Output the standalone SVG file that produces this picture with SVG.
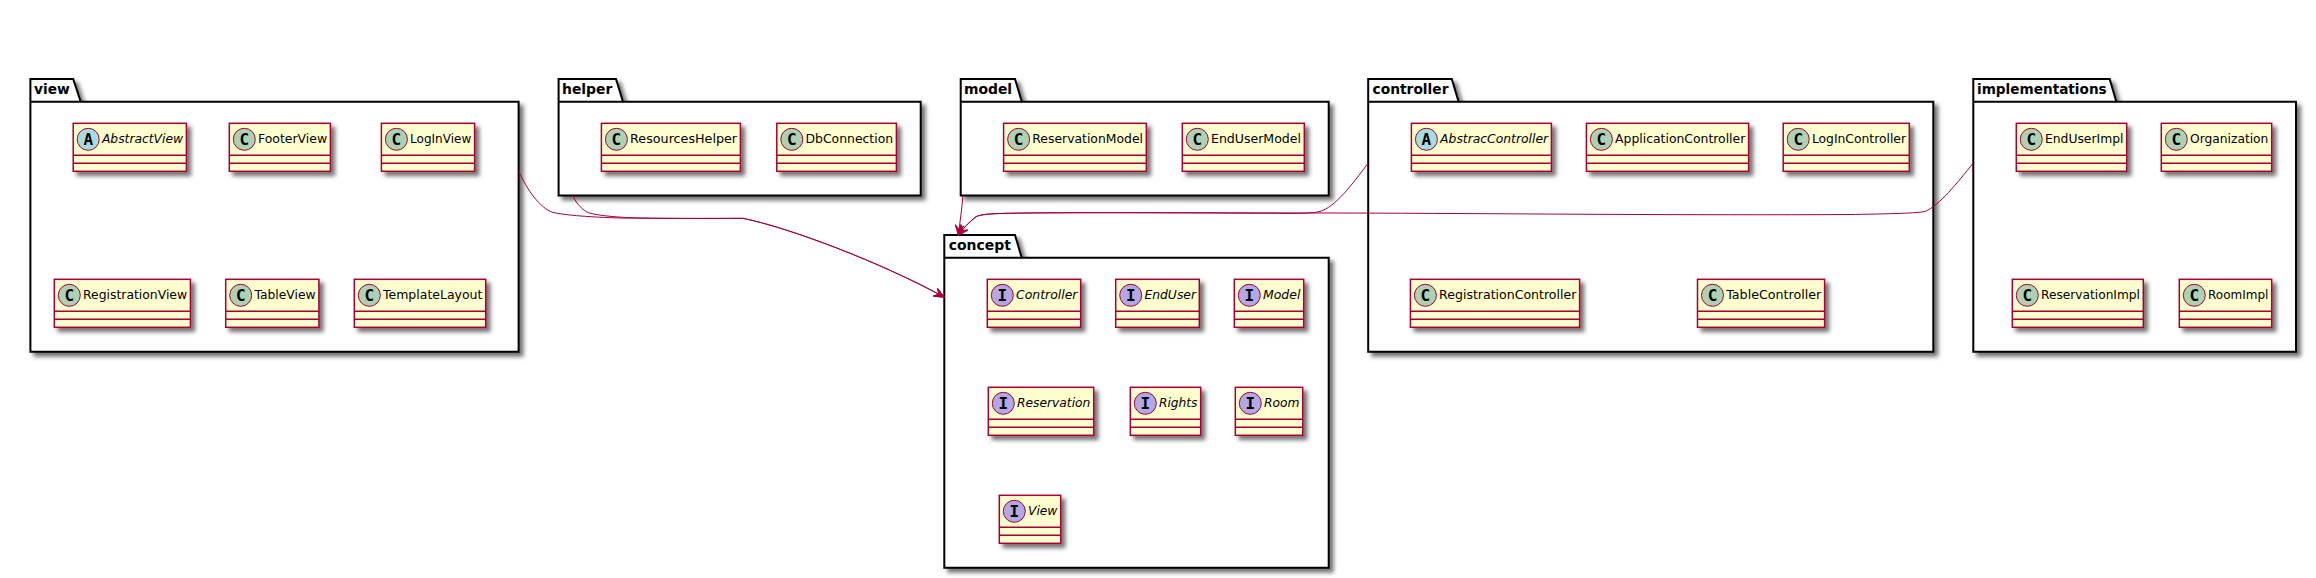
<svg xmlns="http://www.w3.org/2000/svg" width="2316" height="578" viewBox="0 0 2316 578">
<style>
text{font-family:"DejaVu Sans",sans-serif;fill:#000}
.pk{fill:#fff;stroke:#000;stroke-width:2;filter:url(#sh)}
.pl{fill:none;stroke:#000;stroke-width:2}
.pt{font-size:14px;font-weight:bold}
.b{fill:#FEFECE;stroke:#A80036;stroke-width:1.5;filter:url(#sh)}
.s{stroke:#A80036;stroke-width:1.5}
.c,.a,.i{stroke:#A80036;stroke-width:1}
.c{fill:#ADD1B2}.a{fill:#A9DCDF}.i{fill:#B4A7E5}
.g{font-family:"DejaVu Sans Mono",monospace;font-size:16px;font-weight:bold;text-anchor:middle}
.n{font-size:13px}
.it{font-style:italic}
.e{fill:none;stroke:#A80036;stroke-width:1;marker-end:url(#ah)}
</style>
<defs>
<filter id="sh" x="-10%" y="-10%" width="125%" height="130%"><feGaussianBlur in="SourceAlpha" stdDeviation="2"/><feColorMatrix values="0 0 0 0 0 0 0 0 0 0 0 0 0 0 0 0 0 0 .55 0"/><feOffset dx="4" dy="4" result="o"/><feBlend in="SourceGraphic" in2="o"/></filter>
<marker id="ah" markerUnits="userSpaceOnUse" markerWidth="12" markerHeight="12" viewBox="-10 -5 11 10" refX="0" refY="0" orient="auto"><path d="M0,0 L-9,-4 L-5,0 L-9,4 Z" fill="#A80036" stroke="#A80036"/></marker>
</defs>
<g id="pkg-view"><path class="pk" d="M30.4,79 H73.2 L80.7,101.7 H518.6 V351.7 H30.4 Z"/><path class="pl" d="M30.4,101.7 H80.7"/><text class="pt" x="34" y="94" textLength="35.7" lengthAdjust="spacingAndGlyphs">view</text>
<g id="AbstractView"><rect class="b" x="73.2" y="123.3" width="113.2" height="48"/><path class="s" d="M73.2,155.3H186.4M73.2,163.3H186.4"/><circle class="a" cx="88.2" cy="139.3" r="11"/><text class="g" x="88.2" y="145">A</text><text class="n it" x="101.9" y="143.3" textLength="81.2" lengthAdjust="spacingAndGlyphs">AbstractView</text></g>
<g id="FooterView"><rect class="b" x="229.3" y="123.3" width="101.1" height="48"/><path class="s" d="M229.3,155.3H330.4M229.3,163.3H330.4"/><circle class="c" cx="244.3" cy="139.3" r="11"/><text class="g" x="244.3" y="145">C</text><text class="n" x="258" y="143.3" textLength="69.1" lengthAdjust="spacingAndGlyphs">FooterView</text></g>
<g id="LogInView"><rect class="b" x="381.4" y="123.3" width="93.2" height="48"/><path class="s" d="M381.4,155.3H474.6M381.4,163.3H474.6"/><circle class="c" cx="396.4" cy="139.3" r="11"/><text class="g" x="396.4" y="145">C</text><text class="n" x="410.1" y="143.3" textLength="61.2" lengthAdjust="spacingAndGlyphs">LogInView</text></g>
<g id="RegistrationView"><rect class="b" x="54.3" y="279.3" width="136.1" height="48"/><path class="s" d="M54.3,311.3H190.4M54.3,319.3H190.4"/><circle class="c" cx="69.3" cy="295.3" r="11"/><text class="g" x="69.3" y="301">C</text><text class="n" x="83" y="299.3" textLength="104.1" lengthAdjust="spacingAndGlyphs">RegistrationView</text></g>
<g id="TableView"><rect class="b" x="225.7" y="279.3" width="93.2" height="48"/><path class="s" d="M225.7,311.3H318.9M225.7,319.3H318.9"/><circle class="c" cx="240.7" cy="295.3" r="11"/><text class="g" x="240.7" y="301">C</text><text class="n" x="254.4" y="299.3" textLength="61.2" lengthAdjust="spacingAndGlyphs">TableView</text></g>
<g id="TemplateLayout"><rect class="b" x="354.3" y="279.3" width="131.4" height="48"/><path class="s" d="M354.3,311.3H485.7M354.3,319.3H485.7"/><circle class="c" cx="369.3" cy="295.3" r="11"/><text class="g" x="369.3" y="301">C</text><text class="n" x="383" y="299.3" textLength="99.4" lengthAdjust="spacingAndGlyphs">TemplateLayout</text></g>
</g>
<g id="pkg-helper"><path class="pk" d="M558.6,79 H616 L623,101.7 H920.7 V195.5 H558.6 Z"/><path class="pl" d="M558.6,101.7 H623"/><text class="pt" x="562" y="94" textLength="50.4" lengthAdjust="spacingAndGlyphs">helper</text>
<g id="ResourcesHelper"><rect class="b" x="601.4" y="123.3" width="139" height="48"/><path class="s" d="M601.4,155.3H740.4M601.4,163.3H740.4"/><circle class="c" cx="616.4" cy="139.3" r="11"/><text class="g" x="616.4" y="145">C</text><text class="n" x="630.1" y="143.3" textLength="107" lengthAdjust="spacingAndGlyphs">ResourcesHelper</text></g>
<g id="DbConnection"><rect class="b" x="776.8" y="123.3" width="119.6" height="48"/><path class="s" d="M776.8,155.3H896.4M776.8,163.3H896.4"/><circle class="c" cx="791.8" cy="139.3" r="11"/><text class="g" x="791.8" y="145">C</text><text class="n" x="805.5" y="143.3" textLength="87.6" lengthAdjust="spacingAndGlyphs">DbConnection</text></g>
</g>
<g id="pkg-model"><path class="pk" d="M960.7,79 H1015 L1021.8,101.7 H1328.7 V195.5 H960.7 Z"/><path class="pl" d="M960.7,101.7 H1021.8"/><text class="pt" x="963.9" y="94" textLength="48.2" lengthAdjust="spacingAndGlyphs">model</text>
<g id="ReservationModel"><rect class="b" x="1003.6" y="123.3" width="142.7" height="48"/><path class="s" d="M1003.6,155.3H1146.3M1003.6,163.3H1146.3"/><circle class="c" cx="1018.6" cy="139.3" r="11"/><text class="g" x="1018.6" y="145">C</text><text class="n" x="1032.3" y="143.3" textLength="110.7" lengthAdjust="spacingAndGlyphs">ReservationModel</text></g>
<g id="EndUserModel"><rect class="b" x="1182.3" y="123.3" width="122" height="48"/><path class="s" d="M1182.3,155.3H1304.3M1182.3,163.3H1304.3"/><circle class="c" cx="1197.3" cy="139.3" r="11"/><text class="g" x="1197.3" y="145">C</text><text class="n" x="1211" y="143.3" textLength="90" lengthAdjust="spacingAndGlyphs">EndUserModel</text></g>
</g>
<g id="pkg-concept"><path class="pk" d="M944.3,235 H1015 L1021.7,257.7 H1328.7 V567.7 H944.3 Z"/><path class="pl" d="M944.3,257.7 H1021.7"/><text class="pt" x="948.7" y="250" textLength="62.3" lengthAdjust="spacingAndGlyphs">concept</text>
<g id="Controller"><rect class="b" x="987.3" y="279.3" width="93.4" height="48"/><path class="s" d="M987.3,311.3H1080.7M987.3,319.3H1080.7"/><circle class="i" cx="1002.3" cy="295.3" r="11"/><text class="g" x="1002.3" y="301">I</text><text class="n it" x="1016" y="299.3" textLength="61.4" lengthAdjust="spacingAndGlyphs">Controller</text></g>
<g id="EndUser"><rect class="b" x="1115.7" y="279.3" width="83.6" height="48"/><path class="s" d="M1115.7,311.3H1199.3M1115.7,319.3H1199.3"/><circle class="i" cx="1130.7" cy="295.3" r="11"/><text class="g" x="1130.7" y="301">I</text><text class="n it" x="1144.4" y="299.3" textLength="51.6" lengthAdjust="spacingAndGlyphs">EndUser</text></g>
<g id="Model"><rect class="b" x="1234.3" y="279.3" width="69.4" height="48"/><path class="s" d="M1234.3,311.3H1303.7M1234.3,319.3H1303.7"/><circle class="i" cx="1249.3" cy="295.3" r="11"/><text class="g" x="1249.3" y="301">I</text><text class="n it" x="1263" y="299.3" textLength="37.4" lengthAdjust="spacingAndGlyphs">Model</text></g>
<g id="Reservation"><rect class="b" x="988.3" y="387.3" width="105.4" height="48"/><path class="s" d="M988.3,419.3H1093.7M988.3,427.3H1093.7"/><circle class="i" cx="1003.3" cy="403.3" r="11"/><text class="g" x="1003.3" y="409">I</text><text class="n it" x="1017" y="407.3" textLength="73.4" lengthAdjust="spacingAndGlyphs">Reservation</text></g>
<g id="Rights"><rect class="b" x="1130.3" y="387.3" width="70.4" height="48"/><path class="s" d="M1130.3,419.3H1200.7M1130.3,427.3H1200.7"/><circle class="i" cx="1145.3" cy="403.3" r="11"/><text class="g" x="1145.3" y="409">I</text><text class="n it" x="1159" y="407.3" textLength="38.4" lengthAdjust="spacingAndGlyphs">Rights</text></g>
<g id="Room"><rect class="b" x="1235.3" y="387.3" width="67.4" height="48"/><path class="s" d="M1235.3,419.3H1302.7M1235.3,427.3H1302.7"/><circle class="i" cx="1250.3" cy="403.3" r="11"/><text class="g" x="1250.3" y="409">I</text><text class="n it" x="1264" y="407.3" textLength="35.4" lengthAdjust="spacingAndGlyphs">Room</text></g>
<g id="View"><rect class="b" x="999.3" y="495.3" width="61.4" height="48"/><path class="s" d="M999.3,527.3H1060.7M999.3,535.3H1060.7"/><circle class="i" cx="1014.3" cy="511.3" r="11"/><text class="g" x="1014.3" y="517">I</text><text class="n it" x="1028" y="515.3" textLength="29.4" lengthAdjust="spacingAndGlyphs">View</text></g>
</g>
<g id="pkg-controller"><path class="pk" d="M1368.2,79 H1451.8 L1458.6,101.7 H1933.3 V351.7 H1368.2 Z"/><path class="pl" d="M1368.2,101.7 H1458.6"/><text class="pt" x="1372.5" y="94" textLength="76" lengthAdjust="spacingAndGlyphs">controller</text>
<g id="AbstracController"><rect class="b" x="1411.4" y="123.3" width="140" height="48"/><path class="s" d="M1411.4,155.3H1551.4M1411.4,163.3H1551.4"/><circle class="a" cx="1426.4" cy="139.3" r="11"/><text class="g" x="1426.4" y="145">A</text><text class="n it" x="1440.1" y="143.3" textLength="108" lengthAdjust="spacingAndGlyphs">AbstracController</text></g>
<g id="ApplicationController"><rect class="b" x="1586.4" y="123.3" width="162.2" height="48"/><path class="s" d="M1586.4,155.3H1748.6M1586.4,163.3H1748.6"/><circle class="c" cx="1601.4" cy="139.3" r="11"/><text class="g" x="1601.4" y="145">C</text><text class="n" x="1615.1" y="143.3" textLength="130.2" lengthAdjust="spacingAndGlyphs">ApplicationController</text></g>
<g id="LogInController"><rect class="b" x="1783.2" y="123.3" width="126.1" height="48"/><path class="s" d="M1783.2,155.3H1909.3M1783.2,163.3H1909.3"/><circle class="c" cx="1798.2" cy="139.3" r="11"/><text class="g" x="1798.2" y="145">C</text><text class="n" x="1811.9" y="143.3" textLength="94.1" lengthAdjust="spacingAndGlyphs">LogInController</text></g>
<g id="RegistrationController"><rect class="b" x="1410.4" y="279.3" width="169.2" height="48"/><path class="s" d="M1410.4,311.3H1579.6M1410.4,319.3H1579.6"/><circle class="c" cx="1425.4" cy="295.3" r="11"/><text class="g" x="1425.4" y="301">C</text><text class="n" x="1439.1" y="299.3" textLength="137.2" lengthAdjust="spacingAndGlyphs">RegistrationController</text></g>
<g id="TableController"><rect class="b" x="1697.5" y="279.3" width="127.1" height="48"/><path class="s" d="M1697.5,311.3H1824.6M1697.5,319.3H1824.6"/><circle class="c" cx="1712.5" cy="295.3" r="11"/><text class="g" x="1712.5" y="301">C</text><text class="n" x="1726.2" y="299.3" textLength="95.1" lengthAdjust="spacingAndGlyphs">TableController</text></g>
</g>
<g id="pkg-implementations"><path class="pk" d="M1973.3,79 H2109.7 L2116.3,101.7 H2296 V351.7 H1973.3 Z"/><path class="pl" d="M1973.3,101.7 H2116.3"/><text class="pt" x="1977" y="94" textLength="129.7" lengthAdjust="spacingAndGlyphs">implementations</text>
<g id="EndUserImpl"><rect class="b" x="2016.3" y="123.3" width="110.4" height="48"/><path class="s" d="M2016.3,155.3H2126.7M2016.3,163.3H2126.7"/><circle class="c" cx="2031.3" cy="139.3" r="11"/><text class="g" x="2031.3" y="145">C</text><text class="n" x="2045" y="143.3" textLength="78.4" lengthAdjust="spacingAndGlyphs">EndUserImpl</text></g>
<g id="Organization"><rect class="b" x="2161.3" y="123.3" width="110.4" height="48"/><path class="s" d="M2161.3,155.3H2271.7M2161.3,163.3H2271.7"/><circle class="c" cx="2176.3" cy="139.3" r="11"/><text class="g" x="2176.3" y="145">C</text><text class="n" x="2190" y="143.3" textLength="78.4" lengthAdjust="spacingAndGlyphs">Organization</text></g>
<g id="ReservationImpl"><rect class="b" x="2012.3" y="279.3" width="131" height="48"/><path class="s" d="M2012.3,311.3H2143.3M2012.3,319.3H2143.3"/><circle class="c" cx="2027.3" cy="295.3" r="11"/><text class="g" x="2027.3" y="301">C</text><text class="n" x="2041" y="299.3" textLength="99" lengthAdjust="spacingAndGlyphs">ReservationImpl</text></g>
<g id="RoomImpl"><rect class="b" x="2179.3" y="279.3" width="92.4" height="48"/><path class="s" d="M2179.3,311.3H2271.7M2179.3,319.3H2271.7"/><circle class="c" cx="2194.3" cy="295.3" r="11"/><text class="g" x="2194.3" y="301">C</text><text class="n" x="2208" y="299.3" textLength="60.4" lengthAdjust="spacingAndGlyphs">RoomImpl</text></g>
</g>
<g id="connectors">
<path class="e" d="M518.6,170.7 C527,190 540,208 553,212.5 C570,216 600,217.5 622,218 C660,218.5 710,218.5 743,218.3 C790,228 880,262 944,297"/>
<path class="e" d="M572.7,195.5 C577,205 583,210 588.3,212.7 C600,216 620,217.5 640,218 C670,218.5 710,218.5 743,218.3 C790,228 880,262 944,297"/>
<path class="e" d="M962.9,195.5 C962,208 960,222 958.3,235"/>
<path class="e" d="M1368.2,163 C1352,185 1335,207 1320,211.5 C1310,214 1290,213.3 1270,213.3 C1200,213 1050,212 1000,213.5 C985,214 978,215 975,217.5 C969,222 963,229 958.3,235"/>
<path class="e" d="M1973.3,163 C1957,183 1940,205 1925,211.5 C1915,213.5 1880,214 1850,214.5 C1700,215.5 1500,213.5 1340,213 C1250,213 1050,212 1000,213.5 C985,214 978,215 975,217.5 C969,222 963,229 958.3,235"/>
</g>
</svg>
